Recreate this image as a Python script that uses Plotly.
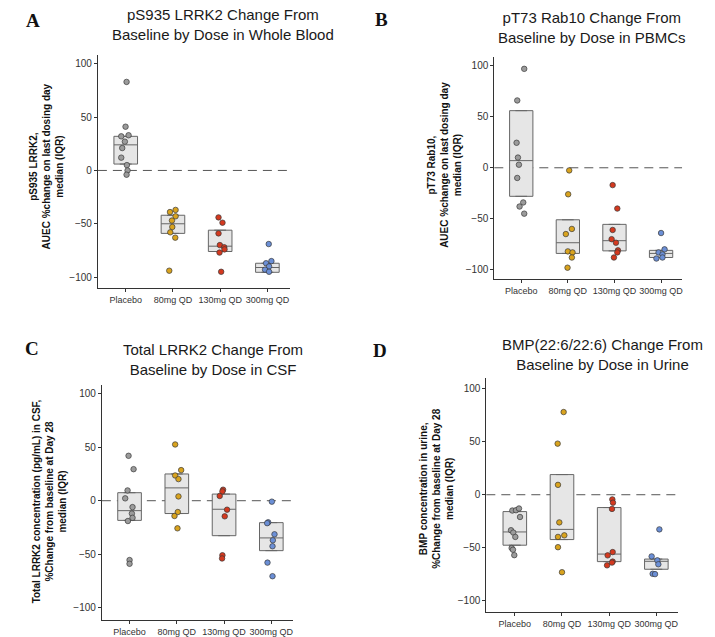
import plotly.graph_objects as go

categories = ["Placebo", "80mg QD", "130mg QD", "300mg QD"]
colors = ["#9b9b9b", "#d9a31e", "#d4391f", "#6b8fd6"]

# ---------- Panel A ----------
A_vals = [
    [83, 41, 32, 33, 27, 21, 12, 5, 0, -4],
    [-37, -39, -43, -47, -53, -58, -63, -94],
    [-44, -49, -59, -70, -72, -74, -77, -95],
    [-69, -85, -87, -90, -93, -95],
]
A_jit = [
    [0.018, -0.004, -0.095, 0.06, -0.018, -0.074, -0.095, 0.025, 0.039, 0.018],
    [0.056, -0.063, 0.056, -0.021, -0.014, -0.056, 0.049, -0.078],
    [-0.035, 0.049, -0.035, -0.007, 0.085, 0.092, -0.014, 0.021],
    [0.028, 0.085, -0.028, 0.035, -0.05, 0.035],
]
A_q1 = [6, -59, -76, -95.5]
A_med = [24, -50, -71, -91]
A_q3 = [32, -42, -56, -87]

# ---------- Panel B ----------
B_vals = [
    [97, 66, 24.5, 10, 3, -10, -34, -38, -45],
    [-2.6, -26, -60, -65, -82, -83, -88, -98],
    [-17, -40, -61, -70, -73.5, -81, -83, -88],
    [-64, -80, -83, -85, -89, -88],
]
B_jit = [
    [0.064, -0.086, -0.1, -0.071, -0.05, -0.086, 0.043, -0.036, 0.064],
    [0.029, 0.007, 0.086, -0.043, 0.0, 0.1, 0.086, -0.007],
    [-0.039, 0.061, -0.039, -0.061, 0.032, 0.075, 0.061, -0.011],
    [0.0, 0.075, -0.054, 0.03, -0.1, 0.03],
]
B_q1 = [-28, -84, -81.5, -88]
B_med = [7, -73.5, -71.5, -84]
B_q3 = [56, -51, -55.5, -81]

# ---------- Panel C ----------
C_vals = [
    [42, 29.5, 9.6, 2.2, -6, -12, -16, -19, -55.5, -59],
    [52.6, 28.6, 23.6, 20.2, 4, -10.6, -14.3, -25.8],
    [10.3, 8.7, 4.4, -8.4, -14.6, -51, -54],
    [-0.9, -20.2, -21, -31.4, -37, -42.6, -57.9, -70.6],
]
C_jit = [
    [-0.021, 0.085, -0.042, -0.092, 0.063, 0.049, 0.063, -0.035, 0.0, 0.0],
    [-0.035, 0.092, -0.035, 0.035, 0.035, 0.021, -0.049, 0.014],
    [-0.021, -0.035, -0.092, 0.063, 0.014, -0.035, -0.042],
    [0.011, -0.067, -0.088, 0.067, 0.032, 0.025, -0.081, 0.025],
]
C_q1 = [-18.4, -12, -32.7, -46.7]
C_med = [-9.3, 12, -8, -34.8]
C_q3 = [7.5, 25, 6.2, -20.5]

# ---------- Panel D ----------
D_vals = [
    [-14.9, -14.6, -13, -21, -33.5, -35.7, -39.8, -50.3, -51.9, -57],
    [78, 48.2, 9.3, -26.1, -38.3, -39.8, -49.5, -73.1],
    [-4.4, -7.5, -13.4, -54.1, -57.2, -63.1, -64, -66.6],
    [-32.7, -58.2, -61.9, -65.6, -74.6, -74.9],
]
D_jit = [
    [-0.053, 0.025, 0.088, 0.11, -0.081, -0.032, 0.011, -0.067, -0.039, -0.011],
    [0.035, -0.092, -0.085, -0.057, 0.049, -0.085, -0.085, 0.0],
    [0.067, 0.081, 0.06, 0.074, -0.032, 0.074, 0.06, -0.045],
    [0.064, -0.1, 0.021, 0.042, -0.078, -0.028],
]
D_q1 = [-47.6, -42.3, -63.1, -70.3]
D_med = [-35.1, -32.7, -56, -62.8]
D_q3 = [-15.9, 19, -12.1, -60.7]

titles = [
    "pS935 LRRK2 Change From<br>Baseline by Dose in Whole Blood",
    "pT73 Rab10 Change From<br>Baseline by Dose in PBMCs",
    "Total LRRK2 Change From<br>Baseline by Dose in CSF",
    "BMP(22:6/22:6) Change From<br>Baseline by Dose in Urine",
]
ytitles = [
    "pS935 LRRK2,<br>AUEC %change on last dosing day<br>median (IQR)",
    "pT73 Rab10,<br>AUEC %change on last dosing day<br>median (IQR)",
    "Total LRRK2 concentration (pg/mL) in CSF,<br>%Change from baseline at Day 28<br>median (IQR)",
    "BMP concentration in urine,<br>%Change from baseline at Day 28<br>median (IQR)",
]
letters = ["A", "B", "C", "D"]

W, H = 715, 637
# layout (pixels): x-domain, y-domain (top, bottom), axis ranges, text anchors
panels = [
    dict(xd=(98, 290), yd=(55, 289), xr=(-0.59, 3.47), yr=(-110.3, 108.4),
         title=(223, 25), letter=(33, 21), ytit=(47, 167)),
    dict(xd=(495, 683), yd=(57, 280), xr=(-0.578, 3.45), yr=(-109.2, 108.8),
         title=(593, 28), letter=(382, 20), ytit=(445, 165)),
    dict(xd=(102, 293), yd=(386, 622), xr=(-0.586, 3.45), yr=(-111.6, 108.4),
         title=(213, 361), letter=(32, 350), ytit=(49, 503)),
    dict(xd=(487, 679), yd=(379, 614), xr=(-0.604, 3.46), yr=(-110.7, 110.3),
         title=(603, 356), letter=(381, 352), ytit=(437, 490)),
]
data = [
    (A_vals, A_jit, A_q1, A_med, A_q3),
    (B_vals, B_jit, B_q1, B_med, B_q3),
    (C_vals, C_jit, C_q1, C_med, C_q3),
    (D_vals, D_jit, D_q1, D_med, D_q3),
]

fig = go.Figure()
annotations = []
shapes = []
FONT = "Liberation Sans, Arial, sans-serif"

for p, (pan, (vals, jit, q1, med, q3)) in enumerate(zip(panels, data)):
    n = p + 1
    xa = "x" if n == 1 else f"x{n}"
    ya = "y" if n == 1 else f"y{n}"
    fig.add_trace(go.Box(
        x=list(range(len(categories))), q1=q1, median=med, q3=q3,
        lowerfence=q1, upperfence=q3, width=0.5,
        fillcolor="#e6e6e6", line=dict(color="#666666", width=1),
        boxpoints=False, showlegend=False, hoverinfo="skip",
        xaxis=xa, yaxis=ya,
    ))
    for i, (v, j) in enumerate(zip(vals, jit)):
        fig.add_trace(go.Scatter(
            x=[i + d for d in j], y=v, mode="markers",
            marker=dict(size=5.5, color=colors[i], line=dict(color="#3a3a3a", width=0.7)),
            showlegend=False, xaxis=xa, yaxis=ya,
        ))
    xk = "xaxis" if n == 1 else f"xaxis{n}"
    yk = "yaxis" if n == 1 else f"yaxis{n}"
    fig.layout[xk] = dict(
        domain=[pan["xd"][0] / W, pan["xd"][1] / W], range=list(pan["xr"]),
        anchor=ya, tickmode="array", tickvals=list(range(len(categories))),
        ticktext=categories, ticks="outside", ticklen=3, tickcolor="#333",
        showline=True, linecolor="#333", linewidth=1, showgrid=False, zeroline=False,
        tickfont=dict(family=FONT, size=9, color="#333"),
    )
    fig.layout[yk] = dict(
        domain=[1 - pan["yd"][1] / H, 1 - pan["yd"][0] / H], range=list(pan["yr"]),
        anchor=xa, tickmode="array", tickvals=[-100, -50, 0, 50, 100],
        ticks="outside", ticklen=3, tickcolor="#333",
        showline=True, linecolor="#333", linewidth=1, showgrid=False, zeroline=False,
        tickfont=dict(family=FONT, size=10, color="#333"),
    )
    shapes.append(dict(type="line", xref=f"{xa} domain", yref=ya, x0=0, x1=1, y0=0, y1=0,
                       line=dict(color="#555", width=1, dash="9px,6px"), layer="below"))
    annotations.append(dict(text=titles[p], x=pan["title"][0] / W, y=1 - pan["title"][1] / H,
                            xref="paper", yref="paper", xanchor="center", yanchor="middle",
                            showarrow=False, font=dict(family=FONT, size=15, color="#1a1a1a")))
    annotations.append(dict(text="<b>" + letters[p] + "</b>", x=pan["letter"][0] / W,
                            y=1 - pan["letter"][1] / H, xref="paper", yref="paper",
                            xanchor="center", yanchor="middle", showarrow=False,
                            font=dict(family="Liberation Serif, Times New Roman, serif", size=19, color="#111")))
    annotations.append(dict(text="<b>" + ytitles[p] + "</b>", x=pan["ytit"][0] / W,
                            y=1 - pan["ytit"][1] / H, xref="paper", yref="paper",
                            xanchor="center", yanchor="middle", showarrow=False, textangle=-90,
                            font=dict(family=FONT, size=10, color="#111")))

fig.update_layout(
    width=W, height=H, margin=dict(l=0, r=0, t=0, b=0),
    paper_bgcolor="white", plot_bgcolor="white",
    annotations=annotations, shapes=shapes, showlegend=False,
)
fig.write_html("out.html")
